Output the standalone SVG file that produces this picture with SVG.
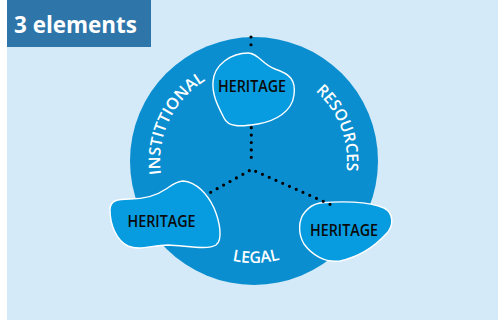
<svg xmlns="http://www.w3.org/2000/svg" width="498" height="320" viewBox="0 0 498 320">
<style>
.blob{fill:#079be0;stroke:#ffffff;stroke-width:1.4}
.lbl{font-family:"Open Sans","Liberation Sans",Arial,sans-serif;font-weight:600;font-size:15.5px;fill:#0a0a0a;text-anchor:middle}
.arc{font-family:"Open Sans","Liberation Sans",Arial,sans-serif;font-weight:600;font-size:16px;fill:#ffffff;text-anchor:middle}
.dot{fill:none;stroke:#000000;stroke-width:3.2;stroke-linecap:round}
</style>
<defs>
<path id="pInst" d="M180.95,220.15 A94,94 0 0 1 254,67"/>
<path id="pRes" d="M268.07,69.07 A93,93 0 0 1 326.58,219.14"/>
<path id="pLeg" d="M165.67,212 A102,102 0 0 0 342.33,212"/>
</defs>
<rect x="0" y="0" width="498" height="320" fill="#ffffff"/>
<rect x="7" y="0" width="491" height="320" fill="#d5eaf8"/>
<g id="title">
<rect x="7" y="0" width="144" height="47" fill="#2e75a9"/>
<text x="14" y="33" font-family="'Open Sans','Liberation Sans',Arial,sans-serif" font-weight="bold" font-size="24" fill="#ffffff" textLength="123" lengthAdjust="spacingAndGlyphs">3 elements</text>
</g>
<g id="circle">
<circle cx="254" cy="161" r="124" fill="#0b8ecf"/>
<text class="arc"><textPath href="#pInst" startOffset="50%" textLength="110" lengthAdjust="spacingAndGlyphs">INSTITTIONAL</textPath></text>
<text class="arc"><textPath href="#pRes" startOffset="50%" textLength="89" lengthAdjust="spacingAndGlyphs">RESOURCES</textPath></text>
<text class="arc"><textPath href="#pLeg" startOffset="51%" textLength="48" lengthAdjust="spacingAndGlyphs">LEGAL</textPath></text>
</g>
<g id="heritage-top">
<path class="blob" d="M248,53 C258,53 262,64 275,69 C290,74 296,80 294,95 C292,112 275,121 258,124 C240,127 228,127 224,118 C219,108 212,96 213,82 C214,64 232,53 248,53 Z"/>
<text class="lbl" x="252" y="92" textLength="68" lengthAdjust="spacingAndGlyphs">HERITAGE</text>
</g>
<g id="heritage-left">
<path class="blob" d="M183,181 C197,182 208,195 214,208 C220,222 223,240 216,245 C208,250 188,246 168,245 C152,245 140,251 128,246 C116,240 110,224 110,210 C110,200 118,199 130,199 C145,199 156,196 166,189 C172,185 177,181 183,181 Z"/>
<text class="lbl" x="161.5" y="226.5" textLength="68" lengthAdjust="spacingAndGlyphs">HERITAGE</text>
</g>
<g id="heritage-right">
<path class="blob" d="M320,203 C340,201 368,201 384,208 C394,213 394,226 386,234 C376,245 362,256 340,261 C325,263 312,255 304,244 C298,234 298,220 305,212 C309,207 314,204 320,203 Z"/>
<text class="lbl" x="344" y="235.5" textLength="68" lengthAdjust="spacingAndGlyphs">HERITAGE</text>
</g>
<g id="connectors">
<line class="dot" x1="251" y1="37" x2="251" y2="52.5" stroke-dasharray="0 7.75"/>
<line class="dot" x1="251.3" y1="127.7" x2="251.3" y2="164.7" stroke-dasharray="0 7.4"/>
<line class="dot" x1="249.3" y1="170.7" x2="210.7" y2="192.3" stroke-dasharray="0 7.37"/>
<line class="dot" x1="255.7" y1="171.3" x2="330" y2="204.3" stroke-dasharray="0 7.39"/>
</g>
</svg>
